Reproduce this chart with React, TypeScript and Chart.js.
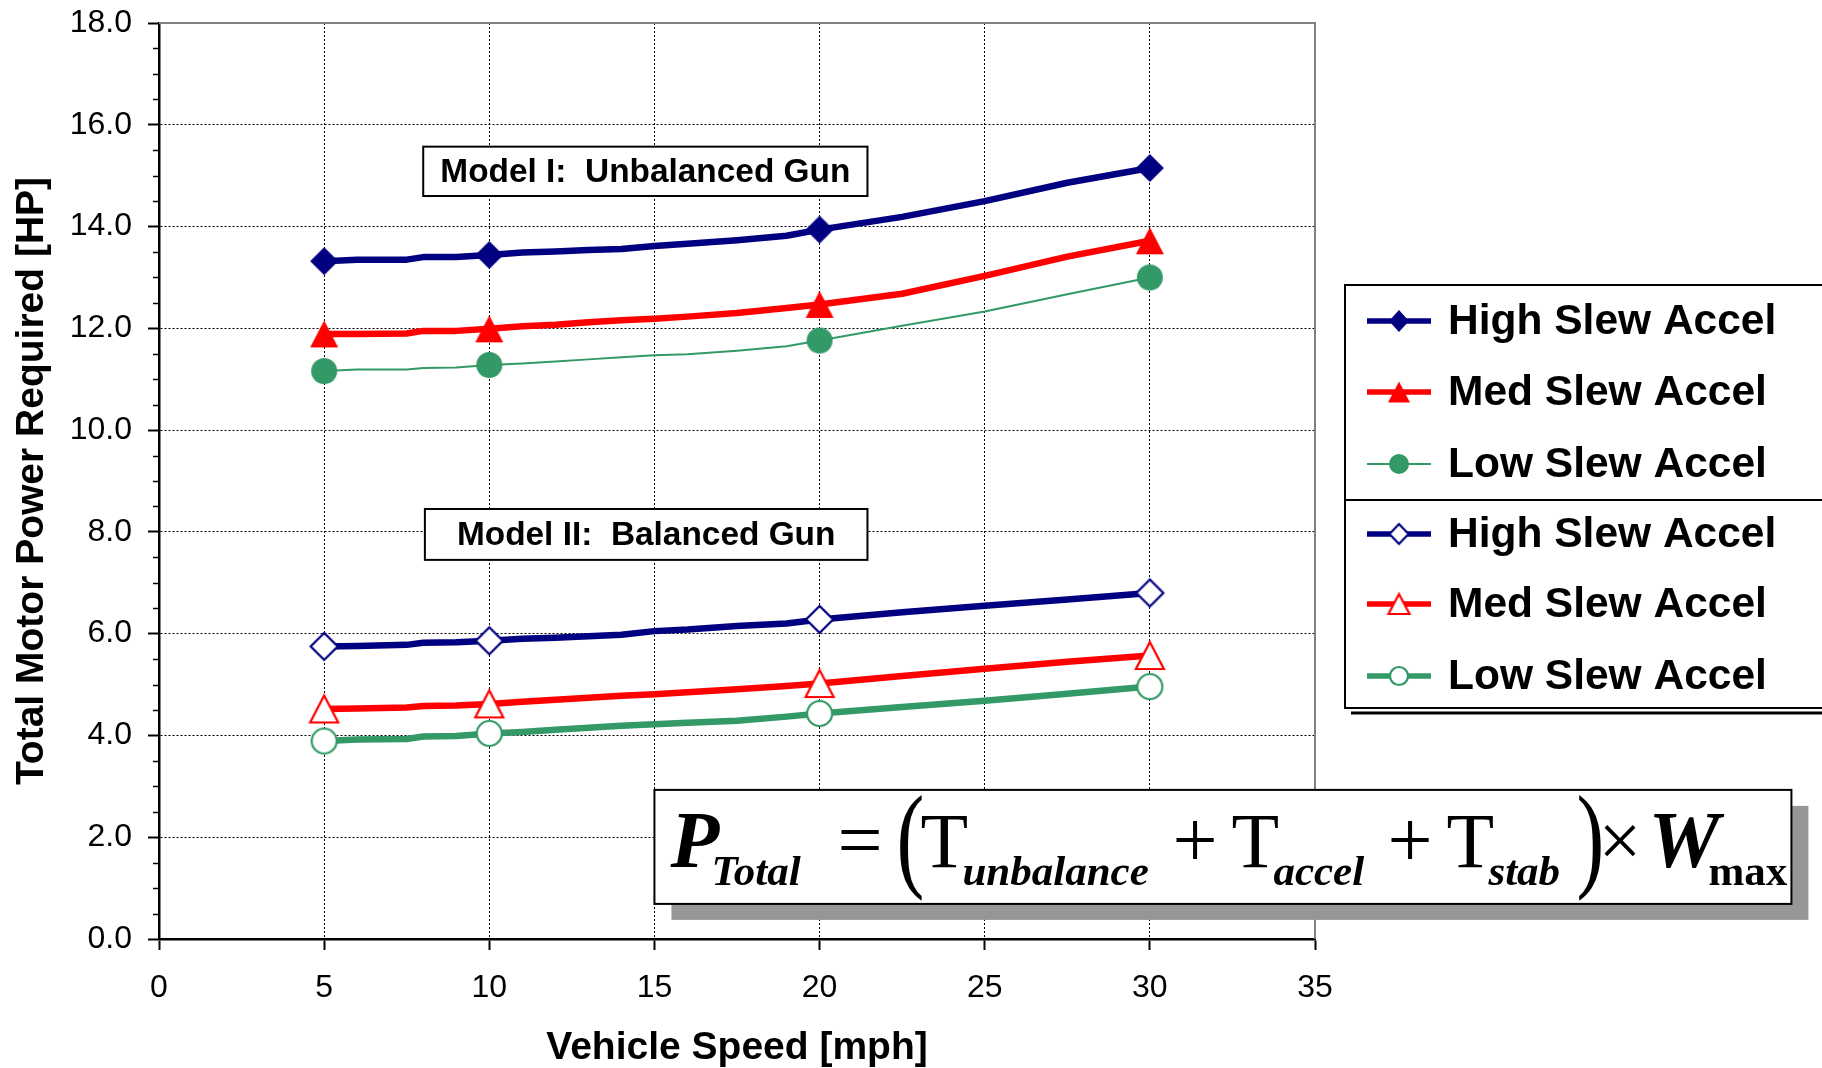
import React, { useEffect, useRef } from "react";
import { Chart, registerables } from "chart.js";

Chart.register(...registerables);

// ---------------- data ----------------
const speeds = [5, 6, 7.5, 8, 9, 10, 11, 12, 13, 14, 15, 16, 17.5, 19, 20, 22.5, 25, 27.5, 30];
const markerSpeeds = [5, 10, 20, 30];

const highSlewModel1 = [13.32, 13.35, 13.35, 13.4, 13.4, 13.44, 13.49, 13.51, 13.54, 13.56, 13.62, 13.66, 13.73, 13.82, 13.94, 14.19, 14.5, 14.86, 15.15];
const medSlewModel1 = [11.89, 11.89, 11.9, 11.95, 11.95, 11.99, 12.04, 12.07, 12.12, 12.16, 12.19, 12.23, 12.3, 12.4, 12.47, 12.68, 13.03, 13.41, 13.72];
const lowSlewModel1 = [11.16, 11.19, 11.19, 11.22, 11.23, 11.28, 11.31, 11.35, 11.39, 11.43, 11.47, 11.49, 11.56, 11.65, 11.76, 12.05, 12.33, 12.67, 13.0];
const highSlewModel2 = [5.75, 5.76, 5.78, 5.82, 5.83, 5.86, 5.9, 5.92, 5.95, 5.98, 6.05, 6.08, 6.15, 6.2, 6.28, 6.42, 6.55, 6.67, 6.8];
const medSlewModel2 = [4.52, 4.53, 4.55, 4.58, 4.59, 4.62, 4.66, 4.7, 4.74, 4.78, 4.81, 4.85, 4.91, 4.97, 5.02, 5.17, 5.31, 5.45, 5.57];
const lowSlewModel2 = [3.89, 3.92, 3.93, 3.98, 3.99, 4.04, 4.07, 4.11, 4.15, 4.19, 4.22, 4.25, 4.29, 4.37, 4.43, 4.56, 4.68, 4.82, 4.96];

const seriesLabels = ["High Slew Accel", "Med Slew Accel", "Low Slew Accel", "High Slew Accel", "Med Slew Accel", "Low Slew Accel"];
const modelLabels = ["Model I:  Unbalanced Gun", "Model II:  Balanced Gun"];

const X_MIN = 0, X_MAX = 35, X_STEP = 5;
const Y_MIN = 0, Y_MAX = 18, Y_STEP = 2;

// ---------------- styles ----------------
const NAVY = "#000080";
const RED = "#ff0000";
const GREEN = "#339966";
const SANS = '"Liberation Sans", Arial, sans-serif';
const SERIF = '"Liberation Serif", "Times New Roman", serif';

type Shape = "diamond" | "triangle" | "circle";

function makeMarker(shape: Shape, w: number, h: number, fill: string, stroke: string, lw: number) {
  const c = document.createElement("canvas");
  const pad = Math.ceil(lw) + 2;
  c.width = Math.ceil(w + pad * 2);
  c.height = Math.ceil(h + pad * 2);
  const g = c.getContext("2d")!;
  const cx = c.width / 2, cy = c.height / 2, hw = w / 2, hh = h / 2;
  g.beginPath();
  if (shape === "diamond") {
    g.moveTo(cx, cy - hh);
    g.lineTo(cx + hw, cy);
    g.lineTo(cx, cy + hh);
    g.lineTo(cx - hw, cy);
    g.closePath();
  } else if (shape === "triangle") {
    g.moveTo(cx, cy - hh);
    g.lineTo(cx + hw, cy + hh);
    g.lineTo(cx - hw, cy + hh);
    g.closePath();
  } else {
    g.ellipse(cx, cy, hw, hh, 0, 0, Math.PI * 2);
  }
  g.fillStyle = fill;
  g.fill();
  if (lw > 0) {
    g.lineWidth = lw;
    g.strokeStyle = stroke;
    g.lineJoin = "miter";
    g.stroke();
  }
  return c;
}

interface SeriesDef {
  values: number[];
  color: string;
  width: number;
  legendWidth: number;
  shape: Shape;
  hollow: boolean;
  pw: number;
  ph: number;
  lw: number;
  lh: number;
}

const seriesDefs: SeriesDef[] = [
  { values: highSlewModel1, color: NAVY, width: 6.5, legendWidth: 5.5, shape: "diamond", hollow: false, pw: 28, ph: 28, lw: 20, lh: 22 },
  { values: medSlewModel1, color: RED, width: 6.5, legendWidth: 5.5, shape: "triangle", hollow: false, pw: 28, ph: 27, lw: 22, lh: 21 },
  { values: lowSlewModel1, color: GREEN, width: 2, legendWidth: 2, shape: "circle", hollow: false, pw: 26, ph: 26, lw: 20, lh: 20 },
  { values: highSlewModel2, color: NAVY, width: 6.5, legendWidth: 5.5, shape: "diamond", hollow: true, pw: 27, ph: 27, lw: 19, lh: 20 },
  { values: medSlewModel2, color: RED, width: 6.5, legendWidth: 5.5, shape: "triangle", hollow: true, pw: 28, ph: 27, lw: 21, lh: 20 },
  { values: lowSlewModel2, color: GREEN, width: 6.5, legendWidth: 5.5, shape: "circle", hollow: true, pw: 25, ph: 25, lw: 18, lh: 18 },
];

function markerFor(s: SeriesDef, w: number, h: number) {
  return s.hollow
    ? makeMarker(s.shape, w, h, "#ffffff", s.color, 2.2)
    : makeMarker(s.shape, w, h, s.color, s.color, 0);
}

// ---------------- decorations plugin ----------------
const decorPlugin = {
  id: "decor",
  beforeDatasetsDraw(chart: any) {
    const { ctx, chartArea: a, scales } = chart;
    const y = scales.y;
    ctx.save();
    ctx.strokeStyle = "#808080";
    ctx.lineWidth = 2;
    ctx.beginPath();
    ctx.moveTo(a.left, a.top);
    ctx.lineTo(a.right, a.top);
    ctx.lineTo(a.right, a.bottom);
    ctx.stroke();
    ctx.strokeStyle = "#000";
    ctx.lineWidth = 1.5;
    for (let v = Y_MIN + 0.5; v < Y_MAX; v += 0.5) {
      if (Math.abs(v % Y_STEP) < 1e-9) continue;
      const py = Math.round(y.getPixelForValue(v)) + 0.5;
      ctx.beginPath();
      ctx.moveTo(a.left - 6, py);
      ctx.lineTo(a.left, py);
      ctx.stroke();
    }
    ctx.restore();
  },
  afterDatasetsDraw(chart: any) {
    const { ctx, scales } = chart;
    const xs = scales.x, ys = scales.y;
    ctx.save();

    // ---- model label boxes ----
    const boxes = [
      { x0: 8.0, x1: 21.45, y0: 15.57, y1: 14.6, text: modelLabels[0] },
      { x0: 8.05, x1: 21.45, y0: 8.45, y1: 7.45, text: modelLabels[1] },
    ];
    for (const b of boxes) {
      const l = xs.getPixelForValue(b.x0), r = xs.getPixelForValue(b.x1);
      const t = ys.getPixelForValue(b.y0), bt = ys.getPixelForValue(b.y1);
      ctx.fillStyle = "#fff";
      ctx.fillRect(l, t, r - l, bt - t);
      ctx.strokeStyle = "#000";
      ctx.lineWidth = 2;
      ctx.strokeRect(l, t, r - l, bt - t);
      ctx.fillStyle = "#000";
      ctx.font = `bold 33.4px ${SANS}`;
      ctx.textAlign = "center";
      ctx.textBaseline = "middle";
      ctx.fillText(b.text, (l + r) / 2, (t + bt) / 2 + 1);
    }

    // ---- formula box ----
    const fl = xs.getPixelForValue(15);
    const ft = ys.getPixelForValue(2.93);
    const fw = 1137, fh = 114;
    ctx.fillStyle = "#969696";
    ctx.fillRect(fl + 17, ft + 16, fw, fh);
    ctx.fillStyle = "#fff";
    ctx.fillRect(fl, ft, fw, fh);
    ctx.strokeStyle = "#000";
    ctx.lineWidth = 2;
    ctx.strokeRect(fl, ft, fw, fh);

    const main = 77, sub = 95, paren = 86;
    const pieces = [
      { t: "P", f: `bold italic 80px ${SERIF}`, dx: 16, b: main, sx: 1 },
      { t: "Total", f: `bold italic 43px ${SERIF}`, dx: 57, b: sub, sx: 1 },
      { t: "=", f: `80px ${SERIF}`, dx: 183, b: main, sx: 1 },
      { t: "(", f: `116px ${SERIF}`, dx: 242, b: paren, sx: 0.72 },
      { t: "T", f: `78px ${SERIF}`, dx: 266, b: main, sx: 1 },
      { t: "unbalance", f: `bold italic 43px ${SERIF}`, dx: 308, b: sub, sx: 1 },
      { t: "+", f: `80px ${SERIF}`, dx: 518, b: main, sx: 1 },
      { t: "T", f: `78px ${SERIF}`, dx: 577, b: main, sx: 1 },
      { t: "accel", f: `bold italic 43px ${SERIF}`, dx: 619, b: sub, sx: 1 },
      { t: "+", f: `80px ${SERIF}`, dx: 733, b: main, sx: 1 },
      { t: "T", f: `78px ${SERIF}`, dx: 792, b: main, sx: 1 },
      { t: "stab", f: `bold italic 43px ${SERIF}`, dx: 834, b: sub, sx: 1 },
      { t: ")", f: `116px ${SERIF}`, dx: 922, b: paren, sx: 0.72 },
      { t: "\u00d7", f: `76px ${SERIF}`, dx: 944, b: main - 1, sx: 1 },
      { t: "W", f: `bold italic 80px ${SERIF}`, dx: 994, b: main, sx: 1 },
      { t: "max", f: `bold 43px ${SERIF}`, dx: 1054, b: sub, sx: 1 },
    ];
    ctx.fillStyle = "#000";
    ctx.textAlign = "left";
    ctx.textBaseline = "alphabetic";
    for (const p of pieces) {
      ctx.save();
      ctx.font = p.f;
      ctx.translate(fl + p.dx, ft + p.b);
      ctx.scale(p.sx, 1);
      ctx.fillText(p.t, 0, 0);
      ctx.restore();
    }

    // ---- legend ----
    const L = 1345, T = 285, DIV = 500, B = 708, R = 1830;
    ctx.fillStyle = "#fff";
    ctx.fillRect(L, T, R - L, B - T);
    ctx.strokeStyle = "#000";
    ctx.lineWidth = 2;
    ctx.beginPath();
    ctx.moveTo(R, T);
    ctx.lineTo(L, T);
    ctx.lineTo(L, B);
    ctx.lineTo(R, B);
    ctx.moveTo(L, DIV);
    ctx.lineTo(R, DIV);
    ctx.stroke();
    ctx.lineWidth = 3;
    ctx.beginPath();
    ctx.moveTo(L + 6, B + 5);
    ctx.lineTo(R, B + 5);
    ctx.stroke();

    const rowY = [321, 392, 464, 534, 604, 676];
    seriesDefs.forEach((s, i) => {
      const yy = rowY[i];
      ctx.strokeStyle = s.color;
      ctx.lineWidth = s.legendWidth;
      ctx.beginPath();
      ctx.moveTo(1367, yy);
      ctx.lineTo(1431, yy);
      ctx.stroke();
      const m = markerFor(s, s.lw, s.lh);
      ctx.drawImage(m, 1399 - m.width / 2, yy - m.height / 2);
      ctx.fillStyle = "#000";
      ctx.font = `bold 42.5px ${SANS}`;
      ctx.textAlign = "left";
      ctx.textBaseline = "middle";
      ctx.fillText(seriesLabels[i], 1448, yy + 1);
    });

    ctx.restore();
  },
};

// ---------------- component ----------------
export default function App() {
  const ref = useRef<HTMLCanvasElement>(null);

  useEffect(() => {
    document.body.style.margin = "0";
    const canvas = ref.current!;
    const datasets = seriesDefs.map((s, i) => ({
      label: seriesLabels[i],
      data: speeds.map((x, k) => ({ x, y: s.values[k] })),
      borderColor: s.color,
      backgroundColor: s.color,
      borderWidth: s.width,
      tension: 0,
      fill: false,
      pointStyle: markerFor(s, s.pw, s.ph),
      pointRadius: (c: any) => (markerSpeeds.includes(speeds[c.dataIndex]) ? 12 : 0),
      pointHoverRadius: 0,
      borderJoinStyle: "round" as const,
      borderCapStyle: "round" as const,
    }));

    const gridColor = (edges: number[]) => (c: any) =>
      c.tick && edges.includes(c.tick.value) ? "rgba(0,0,0,0)" : "#000";

    const chart = new Chart(canvas, {
      type: "line",
      data: { datasets },
      options: {
        responsive: false,
        animation: false,
        events: [],
        layout: { padding: { left: 0, top: 23, right: 507, bottom: 0 } },
        plugins: {
          legend: { display: false },
          tooltip: { enabled: false },
          title: { display: false },
        },
        scales: {
          x: {
            type: "linear",
            min: X_MIN,
            max: X_MAX,
            ticks: {
              stepSize: X_STEP,
              color: "#000",
              font: { family: SANS, size: 32 },
              padding: 19,
              maxRotation: 0,
              autoSkip: false,
            },
            grid: {
              color: gridColor([X_MIN, X_MAX]),
              lineWidth: 1,
              tickColor: "#000",
              tickLength: 11,
              tickWidth: 2,
            },
            border: { display: true, color: "#000", width: 2.5, dash: [2, 2] },
            title: {
              display: true,
              text: "Vehicle Speed [mph]",
              color: "#000",
              font: { family: SANS, size: 39, weight: "bold" },
              padding: { top: 0, bottom: -4 },
            },
            afterFit: (scale: any) => {
              scale.height = 129;
              scale.paddingLeft = 0;
              scale.paddingRight = 0;
            },
          },
          y: {
            type: "linear",
            min: Y_MIN,
            max: Y_MAX,
            ticks: {
              stepSize: Y_STEP,
              color: "#000",
              font: { family: SANS, size: 32 },
              padding: 16,
              callback: (v: any) => Number(v).toFixed(1),
            },
            grid: {
              color: gridColor([Y_MIN, Y_MAX]),
              lineWidth: 1,
              tickColor: "#000",
              tickLength: 11,
              tickWidth: 2,
            },
            border: { display: true, color: "#000", width: 2.5, dash: [2, 2] },
            title: {
              display: true,
              text: "Total Motor Power Required [HP]",
              color: "#000",
              font: { family: SANS, size: 39, weight: "bold" },
              padding: { top: 9, bottom: 0 },
            },
            afterFit: (scale: any) => {
              scale.width = 159;
              scale.paddingTop = 0;
              scale.paddingBottom = 0;
            },
          },
        },
      },
      plugins: [decorPlugin],
    } as any);

    return () => chart.destroy();
  }, []);

  return (
    <canvas
      ref={ref}
      width={1822}
      height={1068}
      style={{ display: "block", position: "absolute", left: 0, top: 0, width: 1822, height: 1068 }}
    />
  );
}
